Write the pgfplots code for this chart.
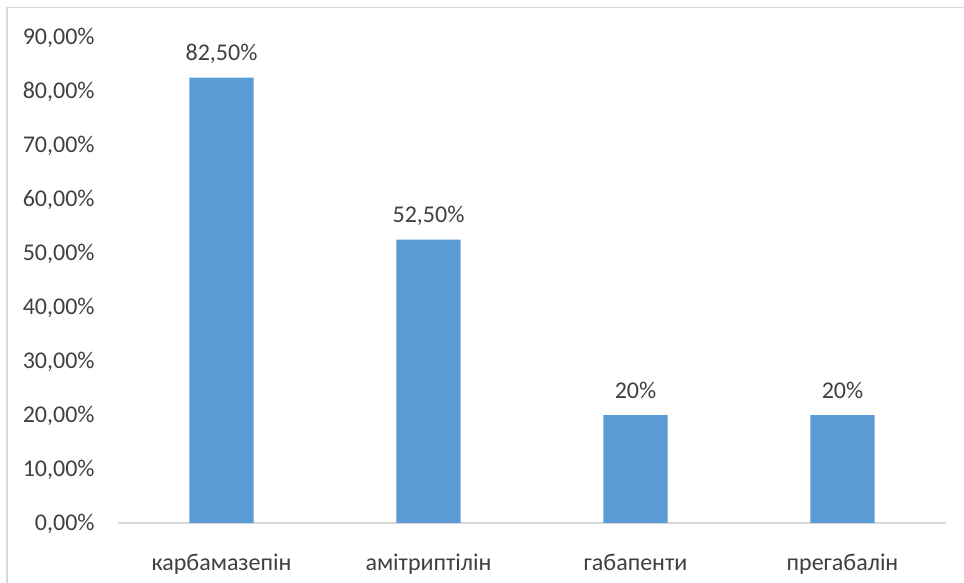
\documentclass[border=0pt]{standalone}
\usepackage{pgfplots}
\pgfplotsset{compat=1.18}
\usepackage{fontspec}
\setmainfont{Carlito}
\definecolor{barblue}{HTML}{5B9BD5}
\definecolor{txt}{HTML}{404040}
\definecolor{axgrey}{HTML}{D9D9D9}
\begin{document}
\begin{tikzpicture}
\path[use as bounding box] (0,0) rectangle (482pt,291.5pt);
\draw[axgrey, line width=0.75pt] (3.5pt,-2pt) -- (3.5pt,287.75pt) -- (484pt,287.75pt);
\begin{axis}[
  at={(59pt,30pt)}, anchor=south west,
  scale only axis, width=414pt, height=243pt,
  xmin=-0.5, xmax=3.5, ymin=0, ymax=90,
  axis x line*=bottom, axis y line*=left,
  x axis line style={axgrey, line width=0.75pt},
  y axis line style={draw=none},
  xtick style={draw=none}, ytick style={draw=none},
  xtick={0,1,2,3},
  xticklabels={карбамазепін, амітриптілін, габапенти, прегабалін},
  ytick={0,10,20,30,40,50,60,70,80,90},
  yticklabels={{0,00\%},{10,00\%},{20,00\%},{30,00\%},{40,00\%},{50,00\%},{60,00\%},{70,00\%},{80,00\%},{90,00\%}},
  tick label style={font=\fontsize{12}{14}\selectfont, text=txt},
  yticklabel style={anchor=base east, inner sep=0pt, xshift=-11.5pt, yshift=-3.8pt},
  xticklabel style={anchor=base, inner sep=0pt, yshift=-19.5pt},
  ybar, bar width=0.31,
  point meta=explicit symbolic,
  nodes near coords={\pgfplotspointmeta},
  nodes near coords style={anchor=base, inner sep=0pt, yshift=8.4pt, text=txt, font=\fontsize{12}{14}\selectfont},
  clip=false,
]
\addplot[fill=barblue, draw=none] coordinates {
  (0,82.5) [{82,50\%}]
  (1,52.5) [{52,50\%}]
  (2,20) [{20\%}]
  (3,20) [{20\%}]
};
\end{axis}
\end{tikzpicture}
\end{document}
